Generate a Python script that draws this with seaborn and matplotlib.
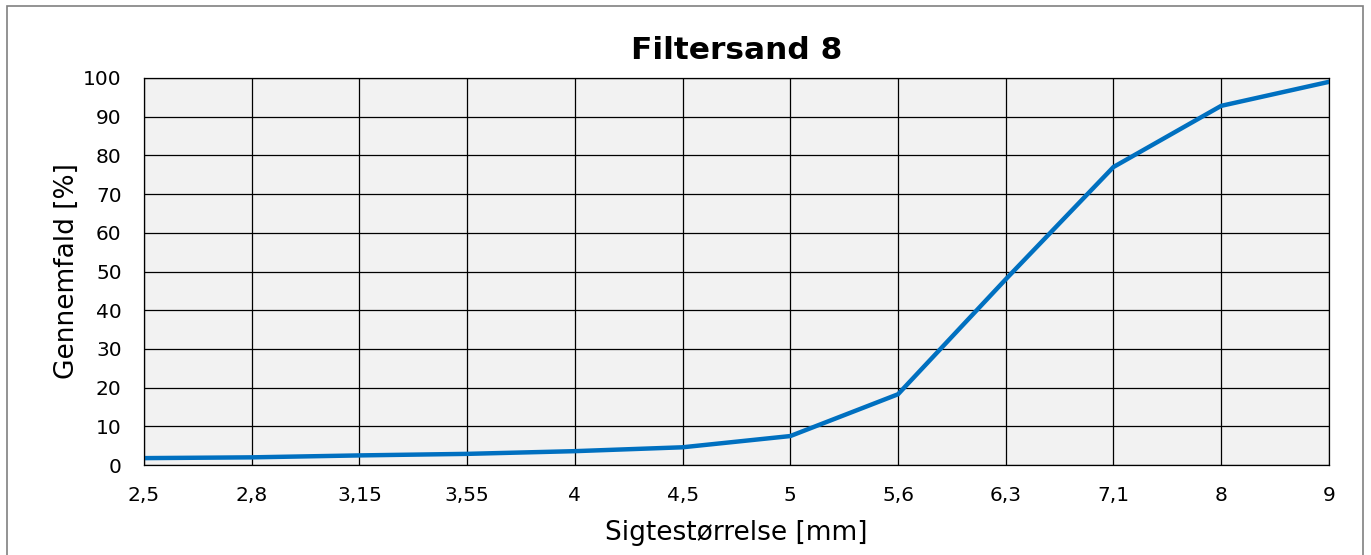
import matplotlib
matplotlib.use('Agg')
import matplotlib.pyplot as plt
import pandas as pd
import seaborn as sns
from matplotlib.patches import Rectangle

# sigtestørrelser (mm) og gennemfald (%)
sigter = ['2,5', '2,8', '3,15', '3,55', '4', '4,5', '5', '5,6', '6,3', '7,1', '8', '9']
gennemfald = [1.8, 2.0, 2.5, 2.9, 3.6, 4.6, 7.5, 18.3, 48.0, 77.0, 92.8, 99.0]
y_ticks = list(range(0, 101, 10))

df = pd.DataFrame({'sigte': sigter, 'gennemfald': gennemfald})

sns.set_style('white')
plt.rcParams['font.family'] = ['DejaVu Sans']

fig = plt.figure(figsize=(13.71, 5.55), dpi=100)
ax = fig.add_axes([0.105, 0.162, 0.8643, 0.6975])

sns.lineplot(data=df, x='sigte', y='gennemfald', ax=ax, color='#0070C0',
             linewidth=3.2, sort=False)

ax.set_facecolor('#F2F2F2')
ax.set_xlim(0, len(sigter) - 1)
ax.set_ylim(0, 100)
ax.set_yticks(y_ticks)
ax.set_xticks(range(len(sigter)))
ax.set_xticklabels(sigter)
ax.grid(True, color='black', linewidth=0.9)
ax.set_axisbelow(True)
for s in ax.spines.values():
    s.set_color('black')
    s.set_linewidth(0.9)
ax.tick_params(axis='both', direction='out', length=6, width=0.9,
               labelsize=14.5, colors='black')
ax.tick_params(axis='x', pad=9)
ax.tick_params(axis='y', pad=10)

ax.set_title('Filtersand 8', fontsize=22.5, fontweight='bold', pad=14,
             color='black')
ax.set_xlabel('Sigtestørrelse [mm]', fontsize=19, labelpad=11, color='black')
ax.set_ylabel('Gennemfald [%]', fontsize=19, labelpad=2, color='black')

# ramme om hele figuren
fig.patches.append(Rectangle((0.005, -0.01), 0.989, 1.0, transform=fig.transFigure,
                             fill=False, edgecolor='#808080', linewidth=1.2))

plt.savefig('out.png', dpi=100)
